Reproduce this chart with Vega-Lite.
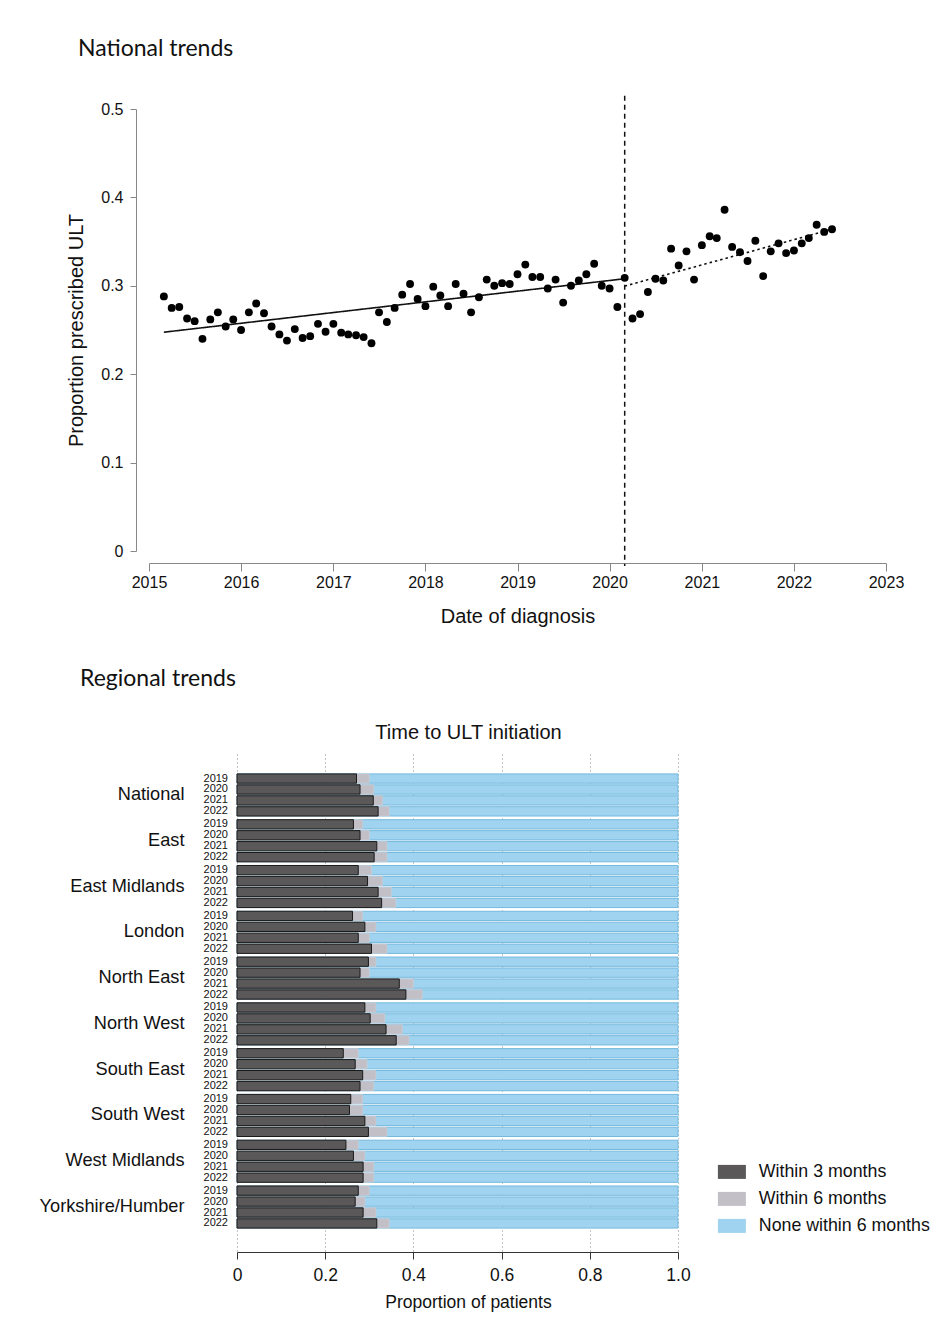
{
  "$schema": "https://vega.github.io/schema/vega-lite/v6.json",
  "background": "white",
  "padding": {"left": 39, "top": 37, "right": 10, "bottom": 10},
  "spacing": 42,
  "config": {
    "font": "Liberation Sans",
    "view": {"stroke": null},
    "axis": {"labelColor": "#111", "titleColor": "#111", "titleFontWeight": "normal", "labelFont": "Liberation Sans", "titleFont": "Liberation Sans"},
    "title": {"fontWeight": "normal", "color": "#111"}
  },
  "datasets": {
    "points": [
      {"date": "2015-03-01", "prop": 0.288}, {"date": "2015-04-01", "prop": 0.275}, {"date": "2015-05-01", "prop": 0.276},
      {"date": "2015-06-01", "prop": 0.263}, {"date": "2015-07-01", "prop": 0.260}, {"date": "2015-08-01", "prop": 0.240},
      {"date": "2015-09-01", "prop": 0.262}, {"date": "2015-10-01", "prop": 0.270}, {"date": "2015-11-01", "prop": 0.254},
      {"date": "2015-12-01", "prop": 0.262}, {"date": "2016-01-01", "prop": 0.250}, {"date": "2016-02-01", "prop": 0.270},
      {"date": "2016-03-01", "prop": 0.280}, {"date": "2016-04-01", "prop": 0.269}, {"date": "2016-05-01", "prop": 0.254},
      {"date": "2016-06-01", "prop": 0.245}, {"date": "2016-07-01", "prop": 0.238}, {"date": "2016-08-01", "prop": 0.251},
      {"date": "2016-09-01", "prop": 0.241}, {"date": "2016-10-01", "prop": 0.243}, {"date": "2016-11-01", "prop": 0.257},
      {"date": "2016-12-01", "prop": 0.248}, {"date": "2017-01-01", "prop": 0.257}, {"date": "2017-02-01", "prop": 0.247},
      {"date": "2017-03-01", "prop": 0.245}, {"date": "2017-04-01", "prop": 0.244}, {"date": "2017-05-01", "prop": 0.242},
      {"date": "2017-06-01", "prop": 0.235}, {"date": "2017-07-01", "prop": 0.270}, {"date": "2017-08-01", "prop": 0.259},
      {"date": "2017-09-01", "prop": 0.275}, {"date": "2017-10-01", "prop": 0.290}, {"date": "2017-11-01", "prop": 0.302},
      {"date": "2017-12-01", "prop": 0.285}, {"date": "2018-01-01", "prop": 0.277}, {"date": "2018-02-01", "prop": 0.299},
      {"date": "2018-03-01", "prop": 0.289}, {"date": "2018-04-01", "prop": 0.277}, {"date": "2018-05-01", "prop": 0.302},
      {"date": "2018-06-01", "prop": 0.291}, {"date": "2018-07-01", "prop": 0.270}, {"date": "2018-08-01", "prop": 0.287},
      {"date": "2018-09-01", "prop": 0.307}, {"date": "2018-10-01", "prop": 0.300}, {"date": "2018-11-01", "prop": 0.303},
      {"date": "2018-12-01", "prop": 0.302}, {"date": "2019-01-01", "prop": 0.313}, {"date": "2019-02-01", "prop": 0.324},
      {"date": "2019-03-01", "prop": 0.310}, {"date": "2019-04-01", "prop": 0.310}, {"date": "2019-05-01", "prop": 0.297},
      {"date": "2019-06-01", "prop": 0.307}, {"date": "2019-07-01", "prop": 0.281}, {"date": "2019-08-01", "prop": 0.300},
      {"date": "2019-09-01", "prop": 0.306}, {"date": "2019-10-01", "prop": 0.313}, {"date": "2019-11-01", "prop": 0.325},
      {"date": "2019-12-01", "prop": 0.300}, {"date": "2020-01-01", "prop": 0.297}, {"date": "2020-02-01", "prop": 0.276},
      {"date": "2020-03-01", "prop": 0.309}, {"date": "2020-04-01", "prop": 0.263}, {"date": "2020-05-01", "prop": 0.268},
      {"date": "2020-06-01", "prop": 0.293}, {"date": "2020-07-01", "prop": 0.308}, {"date": "2020-08-01", "prop": 0.306},
      {"date": "2020-09-01", "prop": 0.342}, {"date": "2020-10-01", "prop": 0.323}, {"date": "2020-11-01", "prop": 0.339},
      {"date": "2020-12-01", "prop": 0.307}, {"date": "2021-01-01", "prop": 0.346}, {"date": "2021-02-01", "prop": 0.356},
      {"date": "2021-03-01", "prop": 0.354}, {"date": "2021-04-01", "prop": 0.386}, {"date": "2021-05-01", "prop": 0.344},
      {"date": "2021-06-01", "prop": 0.338}, {"date": "2021-07-01", "prop": 0.328}, {"date": "2021-08-01", "prop": 0.351},
      {"date": "2021-09-01", "prop": 0.311}, {"date": "2021-10-01", "prop": 0.339}, {"date": "2021-11-01", "prop": 0.348},
      {"date": "2021-12-01", "prop": 0.337}, {"date": "2022-01-01", "prop": 0.340}, {"date": "2022-02-01", "prop": 0.348},
      {"date": "2022-03-01", "prop": 0.354}, {"date": "2022-04-01", "prop": 0.369}, {"date": "2022-05-01", "prop": 0.361},
      {"date": "2022-06-01", "prop": 0.364}
    ],
    "trend": [
      {"date": "2015-03-01", "fit": 0.2475, "period": "pre"},
      {"date": "2020-03-01", "fit": 0.308, "period": "pre"},
      {"date": "2020-03-01", "fit": 0.2997, "period": "post"},
      {"date": "2022-06-01", "fit": 0.364, "period": "post"}
    ],
    "bars": [
      {"region": "National", "year": "2019", "p3": 0.271, "p6": 0.300},
      {"region": "National", "year": "2020", "p3": 0.279, "p6": 0.310},
      {"region": "National", "year": "2021", "p3": 0.309, "p6": 0.330},
      {"region": "National", "year": "2022", "p3": 0.320, "p6": 0.345},
      {"region": "East", "year": "2019", "p3": 0.264, "p6": 0.285},
      {"region": "East", "year": "2020", "p3": 0.279, "p6": 0.300},
      {"region": "East", "year": "2021", "p3": 0.317, "p6": 0.340},
      {"region": "East", "year": "2022", "p3": 0.311, "p6": 0.340},
      {"region": "East Midlands", "year": "2019", "p3": 0.275, "p6": 0.305},
      {"region": "East Midlands", "year": "2020", "p3": 0.296, "p6": 0.330},
      {"region": "East Midlands", "year": "2021", "p3": 0.320, "p6": 0.350},
      {"region": "East Midlands", "year": "2022", "p3": 0.328, "p6": 0.360},
      {"region": "London", "year": "2019", "p3": 0.262, "p6": 0.285},
      {"region": "London", "year": "2020", "p3": 0.290, "p6": 0.315},
      {"region": "London", "year": "2021", "p3": 0.275, "p6": 0.300},
      {"region": "London", "year": "2022", "p3": 0.305, "p6": 0.340},
      {"region": "North East", "year": "2019", "p3": 0.298, "p6": 0.315},
      {"region": "North East", "year": "2020", "p3": 0.279, "p6": 0.300},
      {"region": "North East", "year": "2021", "p3": 0.368, "p6": 0.400},
      {"region": "North East", "year": "2022", "p3": 0.383, "p6": 0.420},
      {"region": "North West", "year": "2019", "p3": 0.290, "p6": 0.315},
      {"region": "North West", "year": "2020", "p3": 0.302, "p6": 0.335},
      {"region": "North West", "year": "2021", "p3": 0.338, "p6": 0.375},
      {"region": "North West", "year": "2022", "p3": 0.361, "p6": 0.390},
      {"region": "South East", "year": "2019", "p3": 0.241, "p6": 0.275},
      {"region": "South East", "year": "2020", "p3": 0.268, "p6": 0.295},
      {"region": "South East", "year": "2021", "p3": 0.285, "p6": 0.315},
      {"region": "South East", "year": "2022", "p3": 0.279, "p6": 0.310},
      {"region": "South West", "year": "2019", "p3": 0.258, "p6": 0.285},
      {"region": "South West", "year": "2020", "p3": 0.255, "p6": 0.285},
      {"region": "South West", "year": "2021", "p3": 0.290, "p6": 0.315},
      {"region": "South West", "year": "2022", "p3": 0.298, "p6": 0.340},
      {"region": "West Midlands", "year": "2019", "p3": 0.247, "p6": 0.275},
      {"region": "West Midlands", "year": "2020", "p3": 0.264, "p6": 0.290},
      {"region": "West Midlands", "year": "2021", "p3": 0.286, "p6": 0.310},
      {"region": "West Midlands", "year": "2022", "p3": 0.286, "p6": 0.310},
      {"region": "Yorkshire/Humber", "year": "2019", "p3": 0.275, "p6": 0.300},
      {"region": "Yorkshire/Humber", "year": "2020", "p3": 0.268, "p6": 0.290},
      {"region": "Yorkshire/Humber", "year": "2021", "p3": 0.286, "p6": 0.315},
      {"region": "Yorkshire/Humber", "year": "2022", "p3": 0.317, "p6": 0.345}
    ]
  },
  "vconcat": [
    {
      "width": 737,
      "height": 442,
      "title": {"text": "National trends", "anchor": "start", "frame": "group", "dx": -71, "font": "Lato", "fontSize": 23, "offset": 34},
      "layer": [
        {
          "data": {"values": [{}]},
          "mark": {"type": "rule", "color": "#111", "strokeWidth": 1.5, "strokeDash": [5, 4]},
          "encoding": {
            "x": {"datum": {"year": 2020, "month": 3, "date": 1, "utc": true}, "type": "temporal"},
            "y": {"datum": 0.515, "type": "quantitative"},
            "y2": {"datum": -0.017}
          }
        },
        {
          "data": {"name": "trend"},
          "mark": {"type": "line", "color": "#111", "strokeWidth": 1.6},
          "encoding": {
            "x": {"field": "date", "type": "temporal"},
            "y": {"field": "fit", "type": "quantitative"},
            "strokeDash": {"field": "period", "type": "nominal", "scale": {"domain": ["pre", "post"], "range": [[1, 0], [2.5, 3]]}, "legend": null}
          }
        },
        {
          "data": {"name": "points"},
          "mark": {"type": "circle", "color": "#000", "opacity": 1, "size": 62},
          "encoding": {
            "x": {
              "field": "date", "type": "temporal",
              "scale": {"type": "utc", "domain": [{"year": 2015, "month": 1, "date": 1, "utc": true}, {"year": 2023, "month": 1, "date": 1, "utc": true}], "nice": false},
              "axis": {
                "title": "Date of diagnosis", "format": "%Y", "formatType": "utc",
                "values": [
                  {"year": 2015, "month": 1, "date": 1, "utc": true}, {"year": 2016, "month": 1, "date": 1, "utc": true},
                  {"year": 2017, "month": 1, "date": 1, "utc": true}, {"year": 2018, "month": 1, "date": 1, "utc": true},
                  {"year": 2019, "month": 1, "date": 1, "utc": true}, {"year": 2020, "month": 1, "date": 1, "utc": true},
                  {"year": 2021, "month": 1, "date": 1, "utc": true}, {"year": 2022, "month": 1, "date": 1, "utc": true},
                  {"year": 2023, "month": 1, "date": 1, "utc": true}
                ],
                "offset": 12, "tickSize": 8, "labelPadding": 3, "labelFontSize": 16, "titleFontSize": 20, "titlePadding": 16,
                "domainColor": "#888", "tickColor": "#888", "grid": false, "labelFlush": false, "labelOverlap": false
              }
            },
            "y": {
              "field": "prop", "type": "quantitative",
              "scale": {"domain": [0, 0.5], "nice": false, "zero": false},
              "axis": {
                "title": "Proportion prescribed ULT", "values": [0, 0.1, 0.2, 0.3, 0.4, 0.5],
                "labelExpr": "datum.value == 0 ? '0' : format(datum.value, '.1f')",
                "offset": 13, "tickSize": 6, "labelPadding": 7, "labelFontSize": 16, "titleFontSize": 20, "titlePadding": 14,
                "domainColor": "#888", "tickColor": "#888", "grid": false
              }
            }
          }
        }
      ]
    },
    {
      "width": 529,
      "height": 500,
      "title": {"text": "Regional trends", "anchor": "start", "frame": "group", "dx": -69, "font": "Lato", "fontSize": 23, "offset": 31},
      "data": {"name": "bars"},
      "encoding": {
        "y": {
          "field": "region", "type": "nominal",
          "sort": ["National", "East", "East Midlands", "London", "North East", "North West", "South East", "South West", "West Midlands", "Yorkshire/Humber"],
          "scale": {"paddingInner": 0.08, "paddingOuter": 0.5},
          "axis": {"title": null, "offset": -88, "ticks": false, "domain": false, "labelPadding": 53, "labelFontSize": 18.2, "labelColor": "#111", "labelLimit": 300}
        },
        "yOffset": {"field": "year", "type": "nominal", "scale": {"paddingInner": 0.15, "paddingOuter": 0}}
      },
      "layer": [
        {
          "mark": {"type": "bar", "stroke": "#74b9de", "strokeWidth": 1},
          "encoding": {
            "x": {
              "datum": 1, "type": "quantitative",
              "scale": {"domain": [0, 1], "range": [88, 529], "nice": false},
              "axis": {
                "orient": "bottom", "title": "Proportion of patients", "values": [0, 0.2, 0.4, 0.6, 0.8, 1],
                "labelExpr": "datum.value == 0 ? '0' : format(datum.value, '.1f')",
                "offset": 1, "tickSize": 7, "labelPadding": 7, "labelFontSize": 17.5, "titleFontSize": 17.5, "titlePadding": 10,
                "domainColor": "#333", "tickColor": "#333", "grid": true, "gridDash": [1, 3], "gridColor": "#888",
                "titleX": 319, "labelFlush": false
              }
            },
            "color": {
              "datum": "None within 6 months", "type": "nominal",
              "scale": {"domain": ["Within 3 months", "Within 6 months", "None within 6 months"], "range": ["#5a5858", "#c2c0c6", "#9fd3ef"]},
              "legend": {
                "title": null, "orient": "none", "legendX": 574, "legendY": 1054,
                "symbolType": "M-2,-1H2V1H-2Z", "symbolSize": 196, "symbolStrokeWidth": 0,
                "labelFontSize": 17.8, "labelOffset": 18, "rowPadding": 8, "labelColor": "#111", "labelFont": "Liberation Sans", "labelLimit": 300
              }
            }
          }
        },
        {
          "mark": {"type": "bar", "stroke": "#d4d0d6", "strokeWidth": 0.5},
          "encoding": {
            "x": {"field": "p6", "type": "quantitative", "axis": null},
            "color": {"datum": "Within 6 months", "type": "nominal"}
          }
        },
        {
          "mark": {"type": "bar", "stroke": "#1a1a1a", "strokeWidth": 1},
          "encoding": {
            "x": {"field": "p3", "type": "quantitative", "axis": null},
            "color": {"datum": "Within 3 months", "type": "nominal"}
          }
        },
        {
          "mark": {"type": "text", "align": "right", "baseline": "middle", "dx": -9, "fontSize": 11, "color": "#111"},
          "encoding": {
            "x": {
              "datum": 0, "type": "quantitative",
              "axis": {"orient": "top", "title": "Time to ULT initiation", "labels": false, "ticks": false, "domain": false, "grid": false, "titleFontSize": 20, "titlePadding": 9, "titleX": 319}
            },
            "text": {"field": "year"}
          }
        }
      ],
      "resolve": {"axis": {"x": "independent"}}
    }
  ]
}
